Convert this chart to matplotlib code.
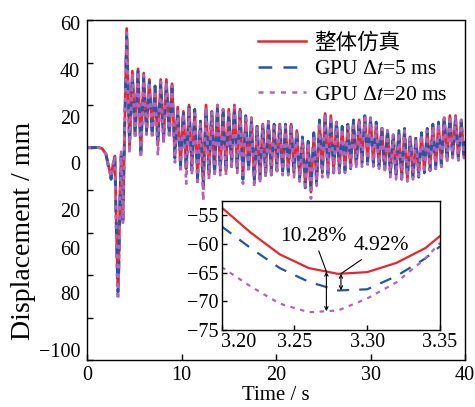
import matplotlib
matplotlib.use('Agg')
import numpy as np
import matplotlib.pyplot as plt
from matplotlib.lines import Line2D

plt.rcParams['font.family'] = ['Liberation Serif', 'Noto Sans CJK SC']
plt.rcParams['mathtext.fontset'] = 'stix'
plt.rcParams['font.size'] = 14.5
plt.rcParams['axes.unicode_minus'] = True

# ---- data ----
# transient part (s)
t_transient = [0, 1.2, 1.6, 2.0, 2.3, 2.55, 2.75, 2.95, 3.05, 3.2, 3.28, 3.35,
               3.5, 3.62, 3.8, 3.95, 4.2]
full_transient = [0, 0, -0.5, -3, -9, -14, -8, -4, -25, -53.6, -65.2, -58.6,
                  -20, -3, -35, 0, 56]
gpu5_transient = [0, 0, -0.5, -3, -10, -15, -9, -5, -28, -56.9, -68.1, -60.4,
                  -22, -4, -34, 2, 55]
gpu20_transient = [0, 0, -0.5, -3, -10, -14, -8, -4, -32, -64.0, -71.8, -59.8,
                   -24, -2, -36, 1, 54]

# peaks / troughs of the oscillation afterwards
t_osc = [4.5, 4.8, 5.1, 5.4, 5.7, 6.0, 6.3, 6.6, 6.9, 7.2,
         7.5, 7.8, 8.1, 8.4, 8.7, 9.0, 9.3, 9.6, 9.9, 10.2,
         10.5, 10.8, 11.1, 11.4, 11.7, 12.0, 12.3, 12.6, 12.9, 13.2,
         13.5, 13.8, 14.1, 14.4, 14.7, 15.0, 15.3, 15.6, 15.9, 16.2,
         16.5, 16.8, 17.1, 17.4, 17.7, 18.0, 18.3, 18.6, 18.9, 19.2,
         19.5, 19.8, 20.1, 20.4, 20.7, 21.0, 21.3, 21.6, 21.9, 22.2,
         22.5, 22.8, 23.1, 23.4, 23.7, 24.0, 24.3, 24.6, 24.9, 25.2,
         25.5, 25.8, 26.1, 26.4, 26.7, 27.0, 27.3, 27.6, 27.9, 28.2,
         28.5, 28.8, 29.1, 29.4, 29.7, 30.0, 30.3, 30.6, 30.9, 31.2,
         31.5, 31.8, 32.1, 32.4, 32.7, 33.0, 33.3, 33.6, 33.9, 34.2,
         34.5, 34.8, 35.1, 35.4, 35.7, 36.0, 36.3, 36.6, 36.9, 37.2,
         37.5, 37.8, 38.1, 38.4, 38.7, 39.0, 39.3, 39.6, 39.9, 40.0]
full_osc = [0, 36, 6, 37, -3, 35, 8, 32, 6, 28,
            1, 32, 3, 32, 6, 30, -4, 19, -8, 17,
            -10, 20, -10, 17, -14, 12, -18, 20, -13, 17,
            -12, 20, -11, 18, -11, 18, -8, 20, -10, 18,
            -14, 14, -10, 14, -16, 10, -14, 11, -12, 12,
            -12, 10, -10, 11, -11, 10, -11, 11, -12, 8,
            -14, 4, -18, 2, -21, 6, -16, 12, -12, 16,
            -12, 15, -11, 12, -11, 9, -10, 10, -9, 12,
            -8, 13, -7, 14, -6, 14, -7, 11, -8, 9,
            -10, 8, -12, 6, -13, 7, -14, 8, -15, 5,
            -14, 4, -13, 6, -11, 8, -10, 10, -9, 11,
            -8, 14, -6, 15, -4, 15, -5, 13, -4, 2]
gpu5_osc = [2, 34, 5, 36, -2, 33, 7, 31, 5, 29,
            2, 31, 4, 30, 5, 29, -5, 18, -9, 18,
            -11, 19, -11, 18, -15, 13, -19, 19, -14, 18,
            -13, 19, -12, 19, -12, 17, -9, 19, -11, 17,
            -15, 15, -11, 13, -17, 11, -15, 12, -13, 13,
            -13, 11, -11, 12, -12, 11, -12, 10, -13, 9,
            -15, 5, -19, 3, -20, 7, -17, 13, -13, 15,
            -13, 14, -12, 13, -12, 10, -11, 11, -10, 13,
            -9, 14, -8, 15, -7, 13, -8, 12, -9, 10,
            -11, 9, -13, 7, -14, 8, -15, 9, -14, 6,
            -15, 5, -14, 7, -12, 9, -11, 11, -10, 12,
            -9, 15, -7, 14, -5, 14, -6, 12, -5, 3]
gpu20_osc = [-3, 35, 4, 36, -5, 34, 6, 31, 4, 27,
             -4, 31, 2, 31, 4, 29, -7, 17, -12, 16,
             -17, 19, -13, 16, -18, 11, -25, 19, -15, 17,
             -14, 20, -13, 18, -13, 18, -10, 19, -12, 18,
             -17, 14, -12, 14, -19, 10, -17, 11, -14, 12,
             -14, 10, -12, 11, -13, 10, -13, 11, -14, 8,
             -16, 4, -20, 2, -24, 6, -18, 12, -14, 16,
             -14, 15, -13, 12, -13, 9, -12, 10, -11, 12,
             -10, 13, -9, 14, -8, 14, -9, 11, -10, 9,
             -12, 8, -14, 6, -15, 7, -16, 8, -16, 5,
             -15, 4, -14, 6, -12, 8, -11, 10, -10, 11,
             -9, 14, -7, 15, -5, 15, -6, 13, -5, 2]

# zoomed window around the largest dip
zoom_t = [3.20, 3.22, 3.24, 3.26, 3.28, 3.30, 3.32, 3.34, 3.35]
zoom_full = [-53.6, -58.0, -61.8, -64.2, -65.2, -64.9, -63.3, -60.7, -58.6]
zoom_gpu5 = [-56.9, -60.7, -64.2, -66.6, -68.1, -67.9, -65.6, -62.5, -60.4]
zoom_gpu20 = [-64.0, -67.4, -70.4, -71.9, -71.6, -69.5, -66.7, -62.5, -59.8]

err_labels = ['10.28%', '4.92%']
err_t = [3.272, 3.282]

# y tick labels as printed in the figure
ytick_text = ['60', '40', '20', '0', '20', '60', '80', '\u2212100']
ytick_pos = [58.6, 36.5, 14.4, -7.3, -29.4, -47.3, -68.5, -95.3]

labels = ['整体仿真', 'GPU Δ$t$=5 ms', 'GPU Δ$t$=20 ms']
colors = ['#e8262d', '#2157a6', '#b264b8']

time_s = t_transient + t_osc
disp_full = full_transient + full_osc
disp_gpu5 = gpu5_transient + gpu5_osc
disp_gpu20 = gpu20_transient + gpu20_osc

fig = plt.figure(figsize=(4.75, 4.07), dpi=100)
ax = fig.add_axes([87 / 475, 47 / 407, 378 / 475, 340 / 407])

ax.plot(time_s, disp_full, color=colors[0], lw=2.0)
ax.plot(time_s, disp_gpu5, color=colors[1], lw=2.0, ls=(0, (4.5, 3.5)))
ax.plot(time_s, disp_gpu20, color=colors[2], lw=2.0, ls=(0, (1.5, 2)))

ax.set_xlim(0, 40)
ax.set_ylim(-100, 60)
ax.set_xticks([0, 10, 20, 30, 40])
ax.set_yticks(ytick_pos)
ax.set_yticklabels(ytick_text)
ax.set_yticks(np.arange(-100, 61, 20), minor=True)
ax.tick_params(axis='x', direction='in', length=4.5, width=1, pad=4)
ax.tick_params(axis='y', which='major', length=0, pad=5)
ax.tick_params(axis='y', which='minor', direction='in', length=4.5, width=1)
for s in ax.spines.values():
    s.set_linewidth(1.0)

ax.set_xlabel('Time / s', fontsize=15)
ax.set_ylabel('Displacement / mm', fontsize=20)
ax.xaxis.set_label_coords(0.5, -0.075)
ax.yaxis.set_label_coords(-0.135, 0.38)

handles = [Line2D([], [], color=colors[0], lw=1.8),
           Line2D([], [], color=colors[1], lw=1.8, ls=(0, (5.5, 4.5))),
           Line2D([], [], color=colors[2], lw=1.8, ls=(0, (2, 2.5)))]
ax.legend(handles, labels, loc='upper right', frameon=False, fontsize=15.5,
          handlelength=2.2, handletextpad=0.4, labelspacing=0.25,
          bbox_to_anchor=(1.0, 1.012), borderaxespad=0.4)

# inset
ins = fig.add_axes([221.5 / 475, 77 / 407, 218.5 / 475, 129.5 / 407])
ins.plot(zoom_t, zoom_full, color=colors[0], lw=1.6)
ins.plot(zoom_t, zoom_gpu5, color=colors[1], lw=1.6, ls=(0, (5.5, 4.5)))
ins.plot(zoom_t, zoom_gpu20, color=colors[2], lw=1.6, ls=(0, (2, 2.5)))
ins.set_xlim(3.2, 3.35)
ins.set_ylim(-75, -52.4)
ins.set_xticks([3.20, 3.25, 3.30, 3.35])
ins.set_xticklabels(['3.20', '3.25', '3.30', '3.35'])
ins.xaxis.get_ticklabels()[0].set_ha('left')
ins.set_yticks([-55, -60, -65, -70, -75])
ins.tick_params(direction='in', length=3.5, width=1, pad=2)
for s in ins.spines.values():
    s.set_linewidth(1.0)

top_a = np.interp(err_t[0], zoom_t, zoom_full)
bot_a = np.interp(err_t[0], zoom_t, zoom_gpu20)
top_b = np.interp(err_t[1], zoom_t, zoom_full)
bot_b = np.interp(err_t[1], zoom_t, zoom_gpu5)
arr = dict(arrowstyle='<->', lw=0.8, color='black', shrinkA=0, shrinkB=0,
           mutation_scale=6)
ins.annotate('', xy=(err_t[0], bot_a), xytext=(err_t[0], top_a), arrowprops=arr)
ins.annotate('', xy=(err_t[1], bot_b), xytext=(err_t[1], top_b), arrowprops=arr)
ins.annotate(err_labels[0], xy=(err_t[0], top_a), xytext=(3.263, -58.6),
             ha='center', va='center', fontsize=15.5,
             arrowprops=dict(arrowstyle='-', lw=0.8, color='black', shrinkA=2, shrinkB=0))
ins.annotate(err_labels[1], xy=(err_t[1], top_b), xytext=(3.31, -60.3),
             ha='center', va='center', fontsize=15.5,
             arrowprops=dict(arrowstyle='-', lw=0.8, color='black', shrinkA=2, shrinkB=0))

fig.savefig('out.png', dpi=100)
